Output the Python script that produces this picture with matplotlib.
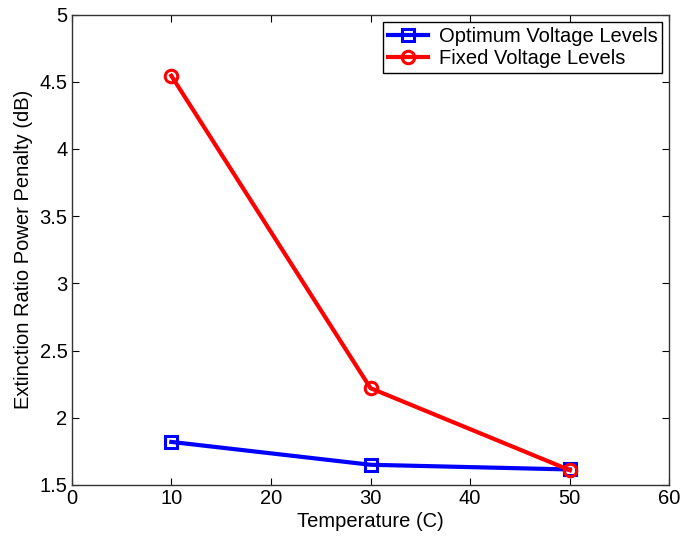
import matplotlib
matplotlib.use("Agg")
import matplotlib.pyplot as plt

plt.rcParams['font.family'] = ['Liberation Sans', 'DejaVu Sans']

temperatura = [10, 30, 50]
optimo = [1.82, 1.65, 1.615]
fijo = [4.545, 2.22, 1.61]

fig = plt.figure(figsize=(6.83, 5.4), dpi=100)
ax = fig.add_axes([0.105, 0.102, 0.875, 0.871])

ax.plot(temperatura, optimo, color='blue', lw=3, marker='s', ms=8,
        mfc='none', mew=2.2, label='Optimum Voltage Levels')
ax.plot(temperatura, fijo, color='red', lw=3, marker='o', ms=9,
        mfc='none', mew=2.2, label='Fixed Voltage Levels')

ax.set_xlim(0, 60)
ax.set_ylim(1.5, 5)
ax.set_xticks(range(0, 61, 10))
ax.set_yticks([1.5, 2, 2.5, 3, 3.5, 4, 4.5, 5])
ax.set_yticklabels(['1.5', '2', '2.5', '3', '3.5', '4', '4.5', '5'])
ax.tick_params(direction='in', top=True, right=True, labelsize=14.5, length=5, pad=3)
for s in ax.spines.values():
    s.set_linewidth(1)
    s.set_color('#333333')

ax.set_xlabel('Temperature (C)', fontsize=14.5, labelpad=3)
ax.set_ylabel('Extinction Ratio Power Penalty (dB)', fontsize=14.5, labelpad=5)

leg = ax.legend(loc='upper right', fontsize=14.5, fancybox=False, framealpha=1,
                edgecolor='black', borderpad=0.25, labelspacing=0.15,
                handlelength=2.0, handletextpad=0.5, borderaxespad=0.35)
leg.get_frame().set_linewidth(1)

fig.savefig('out.png', dpi=100)
